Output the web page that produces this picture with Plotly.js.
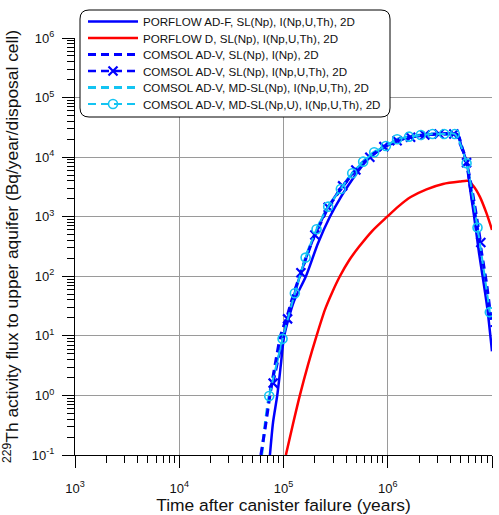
<!DOCTYPE html>
<html><head><meta charset="utf-8">
<script src="https://cdn.plot.ly/plotly-3.0.1.min.js"></script>
<style>html,body{margin:0;padding:0;background:#fff}#chart{width:499px;height:515px}</style>
</head><body><div id="chart"></div>
<script>
// PORFLOW AD-F, SL(Np), I(Np,U,Th), 2D
const adfTime = [7.41e4, 7.94e4, 8.71e4, 9.44e4, 1.016e5, 1.259e5, 1.641e5, 2.138e5, 2.786e5, 3.548e5, 4.467e5, 5.495e5, 6.761e5, 7.943e5, 9.12e5, 1.072e6, 1.23e6, 1.445e6, 1.66e6, 1.995e6, 2.291e6, 2.692e6, 3.162e6, 3.802e6, 4.571e6, 4.842e6, 5.093e6, 5.433e6, 5.768e6, 6.124e6, 6.745e6, 7.516e6, 8.11e6, 8.974e6, 1.0e7];
const adfFlux = [0.1, 0.355, 1, 3.31, 10, 38, 100, 355, 1000, 2140, 3980, 6610, 10000, 12300, 14450, 16600, 18620, 20400, 21630, 22900, 23550, 24270, 24550, 24660, 24550, 21380, 15140, 10960, 7907, 3199, 1000, 244, 102, 30.9, 5.5];

// PORFLOW D, SL(Np), I(Np,U,Th), 2D
const dTime = [1.054e5, 1.23e5, 1.435e5, 1.726e5, 2.075e5, 2.495e5, 2.951e5, 3.475e5, 4.266e5, 5.321e5, 7.079e5, 9.863e5, 1.259e6, 1.66e6, 2.355e6, 3.388e6, 4.909e6, 5.888e6, 6.607e6, 7.638e6, 8.851e6, 1.0e7];
const dFlux = [0.1, 0.324, 1, 3.35, 10, 27.3, 55, 100, 186, 315, 575, 1000, 1479, 2138, 2884, 3548, 3890, 3990, 3311, 2173, 1146, 601];

// COMSOL AD-V, SL(Np), I(Np), 2D
const advNpTime = [6.067e4, 6.761e4, 7.413e4, 8.318e4, 9.376e4, 1.096e5, 1.259e5, 1.469e5, 1.738e5, 1.995e5, 2.344e5, 2.692e5, 3.162e5, 3.69e5, 4.266e5, 4.943e5, 5.754e5, 6.73e5, 7.943e5, 9.183e5, 1.072e6, 1.23e6, 1.445e6, 1.656e6, 1.995e6, 2.27e6, 2.692e6, 3.162e6, 3.802e6, 4.571e6, 4.842e6, 5.129e6, 5.433e6, 5.702e6, 6.31e6, 7.244e6, 7.943e6, 8.913e6, 1.0e7];
const advNpFlux = [0.1, 0.331, 1, 3.31, 10, 22.9, 52.5, 115, 263, 490, 871, 1445, 2188, 3162, 4467, 6026, 7943, 10000, 12590, 15000, 17180, 19050, 20650, 21580, 22900, 23550, 24270, 24490, 24550, 24550, 21380, 14790, 11220, 8035, 2512, 631, 251, 70.8, 14.1];

// COMSOL AD-V, SL(Np), I(Np,U,Th), 2D
const advNpUThTime = [7.96e4, 1.094e5, 1.469e5, 2.0e5, 2.685e5, 3.69e5, 4.943e5, 6.73e5, 9.183e5, 1.23e6, 1.656e6, 2.27e6, 3.112e6, 4.305e6, 5.702e6, 7.816e6];
const advNpUThFlux = [1.61, 19.3, 115, 495, 1443, 3290, 6100, 9950, 15000, 18900, 21600, 23600, 24500, 24500, 8090, 368];

// COMSOL AD-V, MD-SL(Np), I(Np,U,Th), 2D
const mdNpTime = [6.166e4, 7.3e4, 9.8e4, 1.28e5, 1.63e5, 2.08e5, 2.69e5, 3.55e5, 4.56e5, 5.81e5, 7.41e5, 9.59e5, 1.23e6, 1.6e6, 2.08e6, 2.69e6, 3.48e6, 4.4e6, 4.7e6, 5.1e6, 5.7e6, 7.26e6, 9.53e6, 1.0e7];
const mdNpFlux = [0.1, 1.0, 9, 52, 205, 615, 1470, 2920, 5360, 8400, 12100, 15400, 19900, 22100, 23500, 24400, 24500, 24500, 23500, 15500, 7900, 650, 25, 16];

// COMSOL AD-V, MD-SL(Np,U), I(Np,U,Th), 2D
const mdNpUTime = [7.295e4, 9.795e4, 1.285e5, 1.629e5, 2.075e5, 2.685e5, 3.548e5, 4.56e5, 5.808e5, 7.413e5, 9.594e5, 1.23e6, 1.603e6, 2.075e6, 2.692e6, 3.475e6, 4.395e6, 5.702e6, 7.261e6, 9.528e6];
const mdNpUFlux = [0.98, 8.9, 52, 206, 617, 1475, 2925, 5370, 8400, 12100, 15400, 20000, 22100, 23500, 24500, 24500, 24500, 7900, 656, 25];

const seriesNames = [
  'PORFLOW AD-F, SL(Np), I(Np,U,Th), 2D',
  'PORFLOW D, SL(Np), I(Np,U,Th), 2D',
  'COMSOL AD-V, SL(Np), I(Np), 2D',
  'COMSOL AD-V, SL(Np), I(Np,U,Th), 2D',
  'COMSOL AD-V, MD-SL(Np), I(Np,U,Th), 2D',
  'COMSOL AD-V, MD-SL(Np,U), I(Np,U,Th), 2D'
];
const xTickVals = [1e3, 1e4, 1e5, 1e6, 1e7];
const xTickText = ['10<sup>3</sup>', '10<sup>4</sup>', '10<sup>5</sup>', '10<sup>6</sup>', '10<sup>7</sup>'];
const yTickVals = [1e-1, 1e0, 1e1, 1e2, 1e3, 1e4, 1e5, 1e6];
const yTickText = ['10<sup>-1</sup>', '10<sup>0</sup>', '10<sup>1</sup>', '10<sup>2</sup>', '10<sup>3</sup>', '10<sup>4</sup>', '10<sup>5</sup>', '10<sup>6</sup>'];

const BLUE = '#0000ff', RED = '#ff0000', CYAN = '#13c4f2';
const FONT = 'Arial, "Liberation Sans", sans-serif';

function minorVals(lo, hi) {
  const v = [];
  for (let e = lo; e < hi; e++) for (let d = 2; d <= 9; d++) v.push(d * Math.pow(10, e));
  return v;
}

const SM = 0.7;
const traces = [
  {x: mdNpTime, y: mdNpFlux, name: seriesNames[4], legendrank: 5, mode: 'lines',
   line: {color: CYAN, width: 3, dash: '8px,5px', shape: 'spline', smoothing: SM}},
  {x: dTime, y: dFlux, name: seriesNames[1], legendrank: 2, mode: 'lines',
   line: {color: RED, width: 2.5, shape: 'spline', smoothing: SM}},
  {x: adfTime, y: adfFlux, name: seriesNames[0], legendrank: 1, mode: 'lines',
   line: {color: BLUE, width: 2.5, shape: 'spline', smoothing: SM}},
  {x: advNpTime, y: advNpFlux, name: seriesNames[2], legendrank: 3, mode: 'lines',
   line: {color: BLUE, width: 3, dash: '8px,5px', shape: 'spline', smoothing: SM}},
  {x: advNpUThTime, y: advNpUThFlux, name: seriesNames[3], legendrank: 4, mode: 'lines+markers',
   line: {color: BLUE, width: 2.5, dash: '8px,5px', shape: 'spline', smoothing: SM},
   marker: {symbol: 'x-thin', size: 9, color: BLUE, line: {color: BLUE, width: 2.2}}},
  {x: mdNpUTime, y: mdNpUFlux, name: seriesNames[5], legendrank: 6, mode: 'lines+markers',
   line: {color: CYAN, width: 2, dash: '8px,5px', shape: 'spline', smoothing: SM},
   marker: {symbol: 'circle-open', size: 9, color: CYAN, line: {color: CYAN, width: 1.6}}}
];

// rounded legend frame in paper coordinates
const W = 417, H = 417, L = 75, B = 455;
const px = v => (v - L) / W, py = v => (B - v) / H;
const bx0 = 80, bx1 = 390, by0 = 10, by1 = 117, r = 9;
const rx = r / W, ry = r / H;
const X0 = px(bx0), X1 = px(bx1), YT = py(by0), YB = py(by1);
const framePath = `M${X0+rx},${YT} L${X1-rx},${YT} Q${X1},${YT} ${X1},${YT-ry} L${X1},${YB+ry} Q${X1},${YB} ${X1-rx},${YB} L${X0+rx},${YB} Q${X0},${YB} ${X0},${YB+ry} L${X0},${YT-ry} Q${X0},${YT} ${X0+rx},${YT} Z`;

const axisCommon = {
  type: 'log', tickmode: 'array', ticks: 'outside', ticklen: 12, tickwidth: 1, tickcolor: '#000',
  showline: true, linecolor: '#000', linewidth: 1, showgrid: true, gridcolor: '#9a9a9a', gridwidth: 1,
  zeroline: false, tickfont: {family: FONT, size: 13, color: '#111'}
};

const layout = {
  width: 499, height: 515,
  margin: {l: 75, r: 7, t: 38, b: 60},
  paper_bgcolor: '#fff', plot_bgcolor: '#fff',
  font: {family: FONT, color: '#111'},
  showlegend: true,
  legend: {x: px(83), y: py(7), xanchor: 'left', yanchor: 'top',
           bgcolor: 'rgba(0,0,0,0)', borderwidth: 0, itemwidth: 50,
           font: {family: FONT, size: 11.6, color: '#111'}, traceorder: 'normal'},
  xaxis: Object.assign({}, axisCommon, {
    range: [3, 7], tickvals: xTickVals, ticktext: xTickText, ticklabelstandoff: 9,
    minor: {tickmode: 'array', tickvals: minorVals(3, 7), ticks: 'outside', ticklen: 7, tickcolor: '#000', showgrid: false},
    title: {text: 'Time after canister failure (years)', font: {family: FONT, size: 17.4, color: '#111'}, standoff: 4}
  }),
  yaxis: Object.assign({}, axisCommon, {
    range: [-1, 6], tickvals: yTickVals, ticktext: yTickText, ticklabelstandoff: 5,
    minor: {tickmode: 'array', tickvals: minorVals(-1, 6), ticks: 'outside', ticklen: 7, tickcolor: '#000', showgrid: false},
    title: {text: '<sup>229</sup>Th activity flux to upper aquifer (Bq/year/disposal cell)', font: {family: FONT, size: 17.4, color: '#111'}, standoff: 8}
  }),
  shapes: [
    {type: 'path', xref: 'paper', yref: 'paper', path: framePath, layer: 'above',
     fillcolor: '#fff', line: {color: '#000', width: 1}}
  ]
};

Plotly.newPlot('chart', traces, layout, {displayModeBar: false, staticPlot: true}).then(gd => {
  // tighten legend row spacing to match the reference frame
  const rows = gd.querySelectorAll('.legend .traces');
  let y0 = null;
  rows.forEach((g, i) => {
    const m = /translate\(\s*([-\d.e]+)[ ,]+([-\d.e]+)\s*\)/.exec(g.getAttribute('transform') || '');
    if (!m) return;
    if (y0 === null) y0 = parseFloat(m[2]);
    g.setAttribute('transform', `translate(${m[1]},${y0 + i * 16.5})`);
  });
});
</script>
</body></html>
